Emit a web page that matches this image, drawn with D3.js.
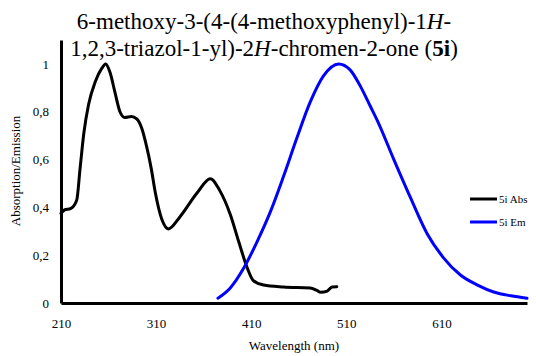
<!DOCTYPE html>
<html>
<head>
<meta charset="utf-8">
<script src="https://cdn.jsdelivr.net/npm/d3@7"></script>
<style>
  html, body { margin: 0; padding: 0; background: #fff; }
  svg { display: block; font-family: "Liberation Serif", "Times New Roman", serif; }
</style>
</head>
<body>
<svg id="chart" width="536" height="356"></svg>
<script>
// Absorption spectrum of 5i: wavelength (nm) and normalised absorbance
const absWavelength = [210, 214, 220, 226.5, 230, 234, 239, 246, 253, 257, 261.6, 266.8, 272, 277, 284, 289.6, 295, 300, 305, 309, 316, 323, 335, 353, 367, 377, 388, 397, 406, 412, 423, 444, 472, 479, 483, 490, 495, 500];
const absValue      = [0.375, 0.39, 0.395, 0.43, 0.56, 0.71, 0.83, 0.925, 0.982, 1.0, 0.964, 0.88, 0.80, 0.776, 0.78, 0.77, 0.73, 0.655, 0.56, 0.465, 0.35, 0.31, 0.36, 0.46, 0.52, 0.47, 0.37, 0.255, 0.145, 0.095, 0.075, 0.067, 0.063, 0.053, 0.045, 0.05, 0.067, 0.068];

// Emission spectrum of 5i: wavelength (nm) and normalised intensity
const emWavelength = [375, 388, 402, 416, 430, 444, 458, 472, 486, 502, 514, 525, 535, 543, 560, 577, 595, 612, 630, 648, 665, 683, 700];
const emValue      = [0.02, 0.063, 0.145, 0.255, 0.38, 0.53, 0.69, 0.84, 0.95, 1.0, 0.975, 0.905, 0.825, 0.76, 0.60, 0.445, 0.29, 0.19, 0.117, 0.075, 0.046, 0.03, 0.02];

const xTicks = [210, 310, 410, 510, 610];
const yTicks = [0, 0.2, 0.4, 0.6, 0.8, 1];
const seriesNames = ["5i Abs", "5i Em"];
const seriesColors = ["#000000", "#0000ff"];

const svg = d3.select("#chart");

const x = d3.scaleLinear().domain([210, 700]).range([61, 527]);
const y = d3.scaleLinear().domain([0, 1.1]).range([303, 40]);

// Title
const title = svg.append("text")
  .attr("text-anchor", "middle")
  .attr("font-size", 23)
  .attr("fill", "#000");
const t1 = title.append("tspan").attr("x", 264).attr("y", 29);
t1.append("tspan").text("6-methoxy-3-(4-(4-methoxyphenyl)-1");
t1.append("tspan").attr("font-style", "italic").text("H");
t1.append("tspan").text("-");
const t2 = title.append("tspan").attr("x", 264).attr("y", 56);
t2.append("tspan").text("1,2,3-triazol-1-yl)-2");
t2.append("tspan").attr("font-style", "italic").text("H");
t2.append("tspan").text("-chromen-2-one (");
t2.append("tspan").attr("font-weight", "bold").text("5i");
t2.append("tspan").text(")");

// Axes
const xAxis = svg.append("g")
  .attr("transform", `translate(0,${y(0)})`)
  .call(d3.axisBottom(x).tickValues(xTicks).tickSize(0).tickPadding(16).tickFormat(d3.format("d")));
const yAxis = svg.append("g")
  .attr("transform", `translate(${x(210)},0)`)
  .call(d3.axisLeft(y).tickValues(yTicks).tickSize(0).tickPadding(12).tickFormat(d => String(d).replace(".", ",")));

[xAxis, yAxis].forEach(g => {
  g.select(".domain").attr("stroke", "#000").attr("stroke-width", 3);
  g.selectAll("text").attr("font-family", "Liberation Serif, Times New Roman, serif").attr("font-size", 13).attr("fill", "#000");
});

// Axis titles
svg.append("text")
  .attr("x", 294).attr("y", 350)
  .attr("text-anchor", "middle")
  .attr("font-size", 13)
  .text("Wavelength (nm)");
svg.append("text")
  .attr("transform", "translate(20,171) rotate(-90)")
  .attr("text-anchor", "middle")
  .attr("font-size", 13)
  .text("Absorption/Emission");

// Spectra
const line = d3.line()
  .x(d => x(d[0]))
  .y(d => y(d[1]))
  .curve(d3.curveMonotoneX);

const series = [
  d3.zip(absWavelength, absValue),
  d3.zip(emWavelength, emValue)
];

svg.selectAll("path.spectrum")
  .data(series)
  .join("path")
  .attr("class", "spectrum")
  .attr("d", line)
  .attr("fill", "none")
  .attr("stroke", (d, i) => seriesColors[i])
  .attr("stroke-width", 3)
  .attr("stroke-linejoin", "round")
  .attr("stroke-linecap", "round");

// Legend
const legend = svg.append("g");
seriesNames.forEach((name, i) => {
  const ly = 199 + i * 23;
  legend.append("line")
    .attr("x1", 470).attr("x2", 497)
    .attr("y1", ly).attr("y2", ly)
    .attr("stroke", seriesColors[i]).attr("stroke-width", 3);
  legend.append("text")
    .attr("x", 499).attr("y", ly + 4)
    .attr("font-size", 11)
    .text(name);
});
</script>
</body>
</html>
